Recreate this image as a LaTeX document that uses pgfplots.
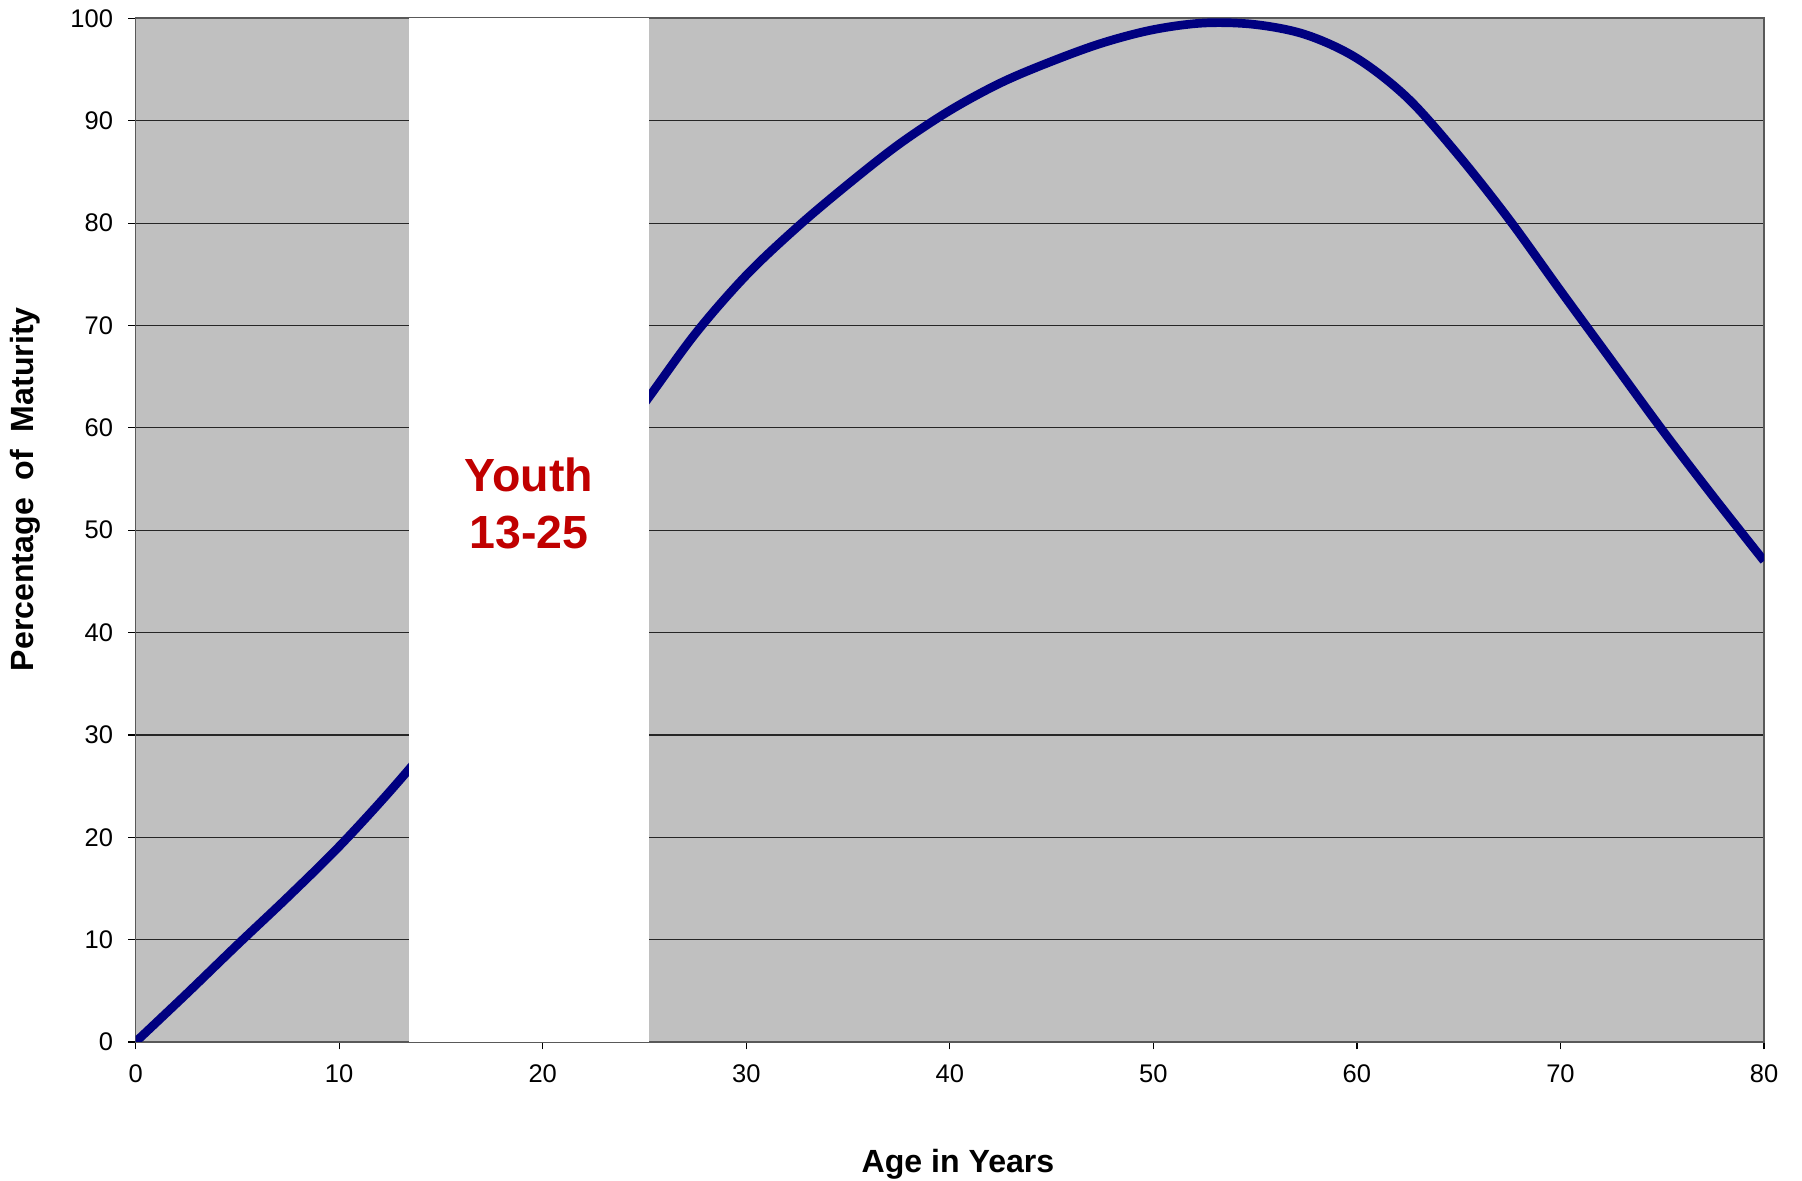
\documentclass[border=0pt]{standalone}
\usepackage{fontspec}
\setmainfont{Liberation Sans}
\usepackage{pgfplots}
\pgfplotsset{compat=1.18}
\definecolor{bggray}{RGB}{192,192,192}
\definecolor{navyline}{RGB}{0,0,128}
\definecolor{youthred}{RGB}{192,0,0}
\begin{document}
\begin{tikzpicture}
\begin{axis}[
  name=ax,
  scale only axis,
  width=542.8pt, height=341.2pt,
  xmin=0, xmax=80, ymin=0, ymax=100,
  xtick={0,10,...,80}, ytick={0,10,...,100},
  axis background/.style={fill=bggray},
  ymajorgrids,
  major grid style={draw=black!85, line width=0.4pt},
  axis line style={draw=black!65, line width=0.6pt},
  tick pos=left, tick align=outside,
  major tick length=2.5pt,
  tick style={draw=black, line width=0.4pt},
  ticklabel style={font=\fontsize{8.5}{10}\selectfont},
  yticklabel style={xshift=-1.5pt},
  xticklabel style={yshift=-1.5pt},
  /pgf/number format/assume math mode=true,
  xlabel={Age in Years},
  ylabel={Percentage\ \ of\ \ Maturity},
  label style={font=\fontsize{10.7}{12}\selectfont\bfseries},
  xlabel style={at={(axis description cs:0.505,-0.119)}, anchor=center},
  ylabel style={at={(axis description cs:-0.0676,0.540)}, anchor=center},
  clip=true,
]
\addplot[navyline, line width=2.9pt, smooth, tension=0.55] coordinates {
 (0,0) (2.5,4.7) (5,9.5) (7.5,14.2) (10,19.1) (12.5,24.5) (15,30.3)
};
\addplot[navyline, line width=2.9pt, smooth, tension=0.55] coordinates {
 (22.5,55.8) (25,62.4) (27.5,69.2) (30,74.9) (32.5,79.6) (35,83.8)
 (37.5,87.7) (40,91.0) (42.5,93.7) (45,95.8) (47.5,97.6) (50,98.9)
 (52.5,99.55) (55,99.4) (57.5,98.4) (60,96.1) (62.5,92.2) (65,86.6)
 (67.5,80.3) (70,73.4) (72.5,66.6) (75,59.8) (77.5,53.3) (80,47)
};
\addplot[fill=white, draw=none] coordinates {
 (13.43,0) (25.22,0) (25.22,100) (13.43,100)
} -- cycle;
\node[align=center, text=youthred, font=\fontsize{15.5}{19}\selectfont\bfseries]
  at (axis cs:19.33,52.6) {Youth\\13-25};
\end{axis}
\pgfresetboundingbox
\path[use as bounding box] ([xshift=-45.2pt,yshift=-46.3pt]ax.south west) rectangle ([xshift=12.67pt,yshift=6.13pt]ax.north east);
\end{tikzpicture}
\end{document}
